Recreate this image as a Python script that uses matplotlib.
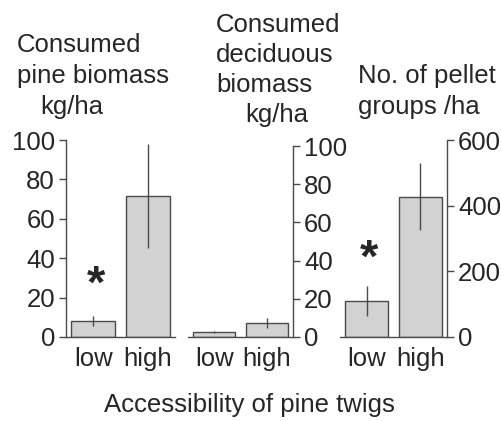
import matplotlib.pyplot as plt

plt.rcParams['font.family'] = ['Liberation Sans', 'DejaVu Sans']

# Data: means and error half-widths for low / high accessibility
groups = ['low', 'high']
pine_mean = [8.2, 71.5]
pine_err = [2.5, 26.5]
decid_mean = [2.6, 7.3]
decid_err = [0.4, 2.7]
pellet_mean = [110, 427]
pellet_err = [45, 102]

W, H = 502, 421
ink = '#262626'
line = '#4a4a4a'
fs = 18.5

fig = plt.figure(figsize=(W / 100, H / 100), dpi=100)


def panel(left, right, top, bottom, ymax, yticks, means, errs, side):
    ax = fig.add_axes([left / W, 1 - bottom / H, (right - left) / W, (bottom - top) / H])
    x = range(len(groups))
    ax.bar(x, means, width=0.8, color='#d2d2d2', edgecolor=line, linewidth=1.0, zorder=2)
    ax.errorbar(x, means, yerr=errs, fmt='none', ecolor=line, elinewidth=1.0, capsize=0, zorder=3)
    ax.set_xlim(-0.5, 1.5)
    ax.set_ylim(0, ymax)
    ax.set_yticks(yticks)
    ax.set_xticks(list(x))
    ax.set_xticklabels(groups)
    for s in ['top', 'left', 'right']:
        ax.spines[s].set_visible(False)
    ax.spines[side].set_visible(True)
    for s in ['bottom', side]:
        ax.spines[s].set_color(line)
        ax.spines[s].set_linewidth(1.0)
    ax.yaxis.set_ticks_position(side)
    ax.tick_params(axis='y', length=5, width=1.0, color=line, pad=3,
                   labelsize=fs, labelcolor=ink)
    ax.tick_params(axis='x', length=0, pad=7, labelsize=fs, labelcolor=ink)
    ax.patch.set_visible(False)
    return ax


ax1 = panel(66, 175, 140, 337, 100, [0, 20, 40, 60, 80, 100], pine_mean, pine_err, 'left')
ax2 = panel(188, 293, 146, 337, 100, [0, 20, 40, 60, 80, 100], decid_mean, decid_err, 'right')
ax3 = panel(340, 447, 140, 337, 600, [0, 200, 400, 600], pellet_mean, pellet_err, 'right')

# significance markers
ax1.text(0.05, 26, '*', ha='center', va='center', fontsize=34, color=ink, fontweight='bold')
ax3.text(0.05, 236, '*', ha='center', va='center', fontsize=34, color=ink, fontweight='bold')


def label(x, y, s):
    fig.text(x / W, 1 - y / H, s, ha='left', va='baseline', fontsize=fs, color=ink)


# panel titles, line by line
label(17, 52, 'Consumed')
label(17, 83, 'pine biomass')
label(40, 114, 'kg/ha')

label(216, 32, 'Consumed')
label(216, 62, 'deciduous')
label(216, 92, 'biomass')
label(245, 122, 'kg/ha')

label(358, 83, 'No. of pellet')
label(358, 114, 'groups /ha')

fig.text(249 / W, 1 - 412 / H, 'Accessibility of pine twigs', ha='center', va='baseline',
         fontsize=fs, color=ink)

fig.savefig('out.png', dpi=100)
